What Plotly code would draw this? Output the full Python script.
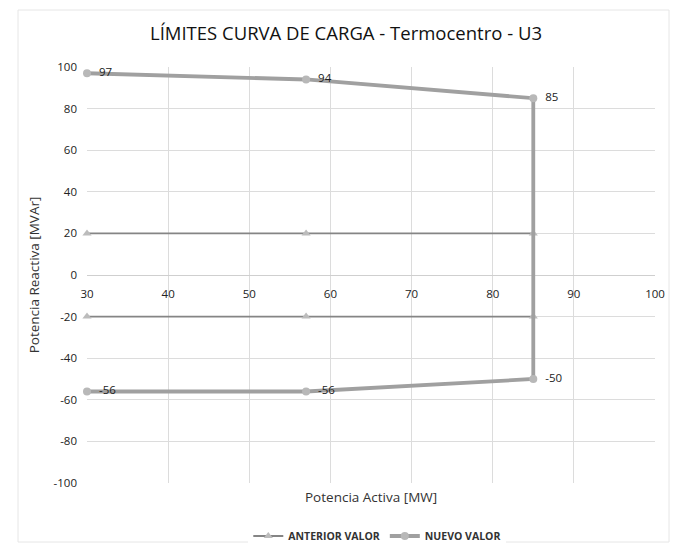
import plotly.graph_objects as go

x_nuevo = [30, 57, 85, 85, 57, 30]
y_nuevo = [97, 94, 85, -50, -56, -56]
x_anterior = [30, 57, 85, 85, 57, 30]
y_anterior = [20, 20, 20, -20, -20, -20]
x_ticks = [30, 40, 50, 60, 70, 80, 90, 100]
y_ticks = [-100, -80, -60, -40, -20, 0, 20, 40, 60, 80, 100]
y_tick_labels = ["-100", "-80", "-60", "-40", "-20", "0", "20", "40", "60", "80", "100"]

W, H = 677, 544
L, R, T, B = 87, 22, 67, 61
PH = H - T - B

fig = go.Figure()
fig.add_trace(go.Scatter(
    x=x_anterior, y=y_anterior, name="ANTERIOR VALOR", mode="lines+markers",
    line=dict(color="#858585", width=1.8),
    marker=dict(symbol="triangle-up", size=8, color="#bcbcbc"),
    cliponaxis=False,
))
fig.add_trace(go.Scatter(
    x=x_nuevo, y=y_nuevo, name="NUEVO VALOR", mode="lines+markers+text",
    line=dict(color="#a0a0a0", width=3.8),
    marker=dict(symbol="circle", size=8, color="#b8b8b8"),
    text=[str(v) for v in y_nuevo], texttemplate="\u00a0\u00a0%{text}",
    textposition="middle right",
    textfont=dict(family="Open Sans, sans-serif", size=11.5, color="#222222"),
    cliponaxis=False,
))

pos0 = (0 - (-100)) / 200

fig.update_layout(
    width=W, height=H,
    margin=dict(l=L, r=R, t=T, b=B, autoexpand=False),
    paper_bgcolor="white", plot_bgcolor="white",
    font=dict(family="Open Sans, sans-serif", color="#333333"),
    title=dict(text="LÍMITES CURVA DE CARGA - Termocentro - U3",
               x=346 / W, xanchor="center", y=1 - 34 / H, yanchor="middle",
               font=dict(size=18.5, color="#111111")),
    xaxis=dict(range=[30, 100], tickvals=x_ticks, anchor="free", position=pos0,
               showgrid=True, gridcolor="#dcdcdc", gridwidth=1,
               zeroline=False, showline=False, ticks="", automargin=False,
               ticklabelstandoff=10,
               tickfont=dict(size=11.5, color="#222222")),
    yaxis=dict(range=[-100, 100], tickvals=y_ticks, ticktext=y_tick_labels,
               showgrid=True, gridcolor="#dcdcdc", gridwidth=1,
               zeroline=True, zerolinecolor="#cfcfcf", zerolinewidth=1,
               showline=False, ticks="", automargin=False,
               ticklabelstandoff=9,
               tickfont=dict(size=11.5, color="#222222"),
               title=dict(text="Potencia Reactiva [MVAr]", standoff=10,
                          font=dict(size=13.5, color="#333333"))),
    legend=dict(orientation="h", x=346 / W, xanchor="center",
                y=-(536 - (H - B)) / PH, yanchor="middle",
                font=dict(size=10.5, color="#333333", weight="bold"),
                itemwidth=30, traceorder="normal"),
    showlegend=True,
)

fig.add_annotation(text="Potencia Activa [MW]", xref="paper", yref="paper",
                   x=0.5, y=-(497 - (H - B)) / PH, xanchor="center",
                   yanchor="middle", showarrow=False,
                   font=dict(size=13.5, color="#333333"))

fig.add_shape(type="rect", xref="paper", yref="paper",
              x0=-(L - 18) / (W - L - R), x1=1 + (R - 8) / (W - L - R),
              y0=-(B - 2) / PH, y1=1 + (T - 10) / PH,
              line=dict(color="#e6e6e6", width=1))

fig.write_html("out.html", config={"displayModeBar": False},
               post_script="document.body.style.margin='0';")
